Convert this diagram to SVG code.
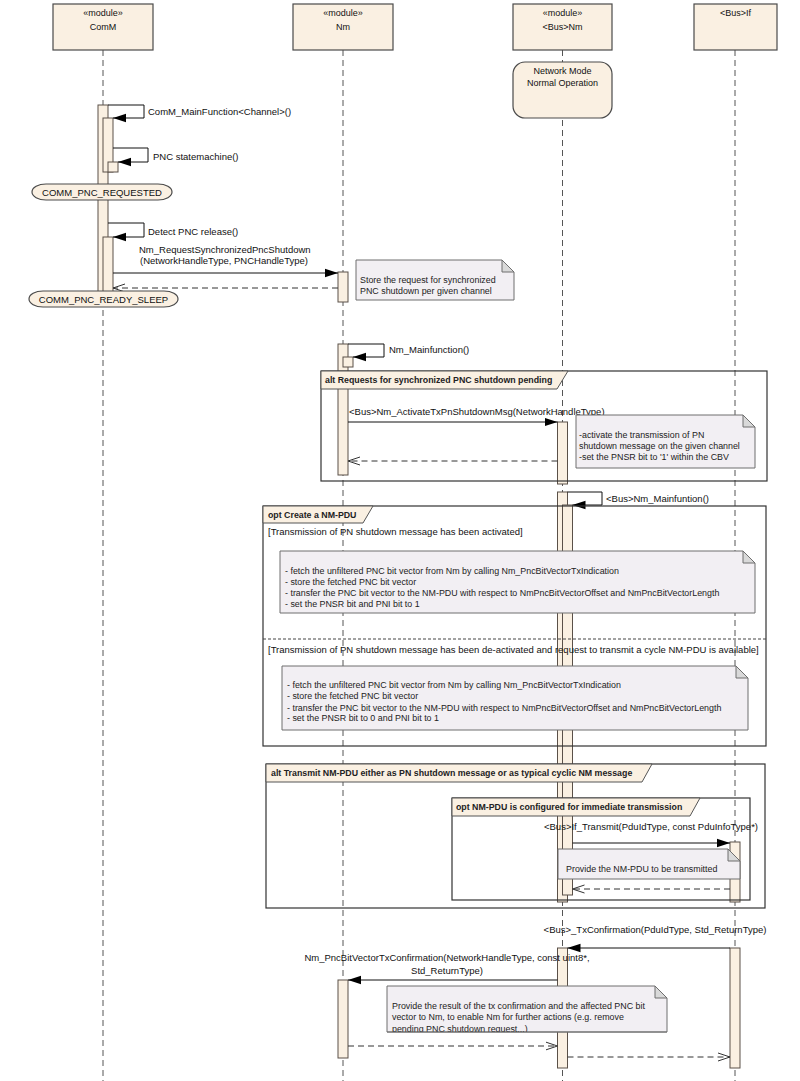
<svg xmlns="http://www.w3.org/2000/svg" width="800" height="1081" viewBox="0 0 800 1081">
<style>
.hdr{fill:#FAF0E2;stroke:#4a4a4a;stroke-width:1.2}
.life{stroke:#555;stroke-width:1;stroke-dasharray:6 4;fill:none}
.bar{fill:#FAF0E2;stroke:#5a5048;stroke-width:1}
.t{font-family:"Liberation Sans",Arial,sans-serif;font-size:9.5px;fill:#111}
.h{font-family:"Liberation Sans",Arial,sans-serif;font-size:9px;fill:#111}
.c{text-anchor:middle}
.lbl{font-family:"Liberation Sans",Arial,sans-serif;font-size:8.8px;font-weight:bold;fill:#222}
.nt{font-family:"Liberation Sans",Arial,sans-serif;font-size:8.9px;fill:#222}
.msg{stroke:#111;stroke-width:1;fill:none}
.ret{stroke:#333;stroke-width:1;fill:none;stroke-dasharray:6 4}
.frame{fill:none;stroke:#333;stroke-width:1.2}
.flab{fill:#FAF0E2;stroke:#555;stroke-width:1}
.note{fill:#F2EFF3;stroke:#6e6e6e;stroke-width:1}
.ear{fill:#D9D9D9;stroke:#6e6e6e;stroke-width:1}
.st{fill:#FAF0E2;stroke:#4a4a4a;stroke-width:1.2}
</style>
<defs>
<marker id="fa" markerUnits="userSpaceOnUse" markerWidth="13" markerHeight="10" viewBox="0 0 13 10" refX="13" refY="5" orient="auto"><path d="M0,0.8 L13,5 L0,9.2 z" fill="#000"/></marker>
<marker id="oa" markerUnits="userSpaceOnUse" markerWidth="13" markerHeight="10" viewBox="0 0 13 10" refX="12" refY="5" orient="auto"><path d="M0,1 L12,5 L0,9" fill="none" stroke="#333" stroke-width="1"/></marker>
<clipPath id="n6clip"><rect x="387" y="986" width="280" height="46"/></clipPath>
</defs>
<rect x="0" y="0" width="800" height="1081" fill="#fff"/>

<g id="ComM">
<line class="life" x1="103" y1="50" x2="103" y2="1081"/>
<rect class="hdr" x="53" y="4" width="100" height="46"/>
<text class="h c" x="103" y="16">«module»</text>
<text class="h c" x="103" y="30">ComM</text>
</g>
<g id="Nm">
<line class="life" x1="343" y1="50" x2="343" y2="1081"/>
<rect class="hdr" x="293" y="4" width="100" height="46"/>
<text class="h c" x="343" y="16">«module»</text>
<text class="h c" x="343" y="30">Nm</text>
</g>
<g id="BusNm">
<line class="life" x1="562.5" y1="50" x2="562.5" y2="1081"/>
<rect class="hdr" x="513" y="4" width="99" height="46"/>
<text class="h c" x="562.5" y="16">«module»</text>
<text class="h c" x="562.5" y="30">&lt;Bus&gt;Nm</text>
</g>
<g id="BusIf">
<line class="life" x1="735" y1="50" x2="735" y2="1081"/>
<rect class="hdr" x="694" y="4" width="83" height="46"/>
<text class="h c" x="735.5" y="16">&lt;Bus&gt;If</text>
</g>

<g id="state-network-mode">
<rect class="st" x="513" y="62" width="99" height="56" rx="12" ry="12"/>
<text class="h c" x="562.5" y="74">Network Mode</text>
<text class="h c" x="562.5" y="86">Normal Operation</text>
</g>

<g id="activations">
<rect class="bar" x="98" y="105" width="10" height="195"/>
<rect class="bar" x="103" y="118" width="10" height="54"/>
<rect class="bar" x="108" y="162" width="10" height="10"/>
<rect class="bar" x="103" y="237" width="10" height="60"/>
<rect class="bar" x="338" y="272" width="10" height="30"/>
<rect class="bar" x="338" y="344" width="10" height="131"/>
<rect class="bar" x="343" y="357" width="10" height="10"/>
<rect class="bar" x="557.5" y="422" width="10" height="62"/>
<rect class="bar" x="557.5" y="492" width="10" height="410"/>
<rect class="bar" x="562.5" y="505" width="10" height="390"/>
<rect class="bar" x="730" y="842" width="10" height="60"/>
<rect class="bar" x="557.5" y="948" width="10" height="120"/>
<rect class="bar" x="730" y="948" width="10" height="120"/>
<rect class="bar" x="338" y="980" width="10" height="78"/>
</g>

<g id="connectors">
<polyline class="msg" points="108,105 144,105 144,118 113,118" marker-end="url(#fa)"/>
<text class="t" x="148" y="115">ComM_MainFunction&lt;Channel&gt;()</text>
<polyline class="msg" points="113,148 148,148 148,162 118,162" marker-end="url(#fa)"/>
<text class="t" x="153" y="160">PNC statemachine()</text>
<polyline class="msg" points="108,223 144,223 144,237 113,237" marker-end="url(#fa)"/>
<text class="t" x="148" y="235">Detect PNC release()</text>
<line class="msg" x1="113" y1="273" x2="338" y2="273" marker-end="url(#fa)"/>
<text class="t" x="139" y="253">Nm_RequestSynchronizedPncShutdown</text>
<text class="t" x="140" y="264">(NetworkHandleType, PNCHandleType)</text>
<line class="ret" x1="338" y1="288" x2="113" y2="288" marker-end="url(#oa)"/>
<polyline class="msg" points="348,344 384,344 384,357 353,357" marker-end="url(#fa)"/>
<text class="t" x="389" y="353">Nm_Mainfunction()</text>
<line class="msg" x1="348" y1="422" x2="557.5" y2="422" marker-end="url(#fa)"/>
<text class="t" x="349" y="415">&lt;Bus&gt;Nm_ActivateTxPnShutdownMsg(NetworkHandleType)</text>
<line class="ret" x1="557.5" y1="461" x2="348" y2="461" marker-end="url(#oa)"/>
<polyline class="msg" points="567.5,492 602,492 602,505 572.5,505" marker-end="url(#fa)"/>
<text class="t" x="606" y="502">&lt;Bus&gt;Nm_Mainfuntion()</text>
<line class="msg" x1="572.5" y1="843" x2="730" y2="843" marker-end="url(#fa)"/>
<text class="t c" x="651" y="830">&lt;Bus&gt;If_Transmit(PduIdType, const PduInfoType*)</text>
<line class="ret" x1="730" y1="889" x2="572.5" y2="889" marker-end="url(#oa)"/>
<line class="msg" x1="730" y1="948" x2="567.5" y2="948" marker-end="url(#fa)"/>
<text class="t c" x="655" y="933">&lt;Bus&gt;_TxConfirmation(PduIdType, Std_ReturnType)</text>
<line class="msg" x1="557.5" y1="980" x2="348" y2="980" marker-end="url(#fa)"/>
<text class="t c" x="447" y="961">Nm_PncBitVectorTxConfirmation(NetworkHandleType, const uint8*,</text>
<text class="t c" x="447" y="974">Std_ReturnType)</text>
<line class="ret" x1="348" y1="1046" x2="557.5" y2="1046" marker-end="url(#oa)"/>
<line class="ret" x1="567.5" y1="1057" x2="730" y2="1057" marker-end="url(#oa)"/>
</g>

<g id="state-comm-pnc-requested">
<rect class="st" x="32" y="184" width="140" height="16" rx="14" ry="8"/>
<text class="t c" x="102" y="195.5">COMM_PNC_REQUESTED</text>
</g>
<g id="state-comm-pnc-ready-sleep">
<rect class="st" x="29" y="291" width="149" height="16" rx="14" ry="8"/>
<text class="t c" x="103.5" y="302.5">COMM_PNC_READY_SLEEP</text>
</g>

<g id="frame-alt-requests">
<rect class="frame" x="321" y="371" width="446" height="110"/>
<path class="flab" d="M321,371 H568 L557,389 H321 Z"/>
<text class="lbl" x="325" y="383">alt Requests for synchronized PNC shutdown pending</text>
</g>
<g id="frame-opt-create">
<rect class="frame" x="263" y="506" width="503" height="240"/>
<path class="flab" d="M263,506 H373 L363,523 H263 Z"/>
<text class="lbl" x="268" y="518">opt Create a NM-PDU</text>
<text class="t" x="268" y="535">[Transmission of PN shutdown message has been activated]</text>
<line x1="263" y1="639" x2="766" y2="639" stroke="#444" stroke-width="1" stroke-dasharray="3 2"/>
<text class="t" x="268" y="653">[Transmission of PN shutdown message has been de-activated and request to transmit a cycle NM-PDU is available]</text>
</g>
<g id="frame-alt-transmit">
<rect class="frame" x="266" y="764" width="499" height="144"/>
<path class="flab" d="M266,764 H652 L642,782 H266 Z"/>
<text class="lbl" x="271" y="776">alt Transmit NM-PDU either as PN shutdown message or as typical cyclic NM message</text>
</g>
<g id="frame-opt-immediate">
<rect class="frame" x="452" y="798" width="298" height="102"/>
<path class="flab" d="M452,798 H700 L690,816 H452 Z"/>
<text class="lbl" x="456" y="810">opt NM-PDU is configured for immediate transmission</text>
</g>

<g id="note-store">
<path class="note" d="M356,260 H502 L514,272 V300 H356 Z"/>
<path class="ear" d="M502,260 V272 H514 Z"/>
<text class="nt" x="360" y="283">Store the request for synchronized</text>
<text class="nt" x="360" y="294">PNC shutdown per given channel</text>
</g>
<g id="note-activate">
<path class="note" d="M576,415 H743 L755,427 V468 H576 Z"/>
<path class="ear" d="M743,415 V427 H755 Z"/>
<text class="nt" x="579" y="438">-activate the transmission of PN</text>
<text class="nt" x="579" y="449">shutdown message on the given channel</text>
<text class="nt" x="579" y="460">-set the PNSR bit to '1' within the CBV</text>
</g>
<g id="note-fetch-1">
<path class="note" d="M280,551 H743 L755,563 V613 H280 Z"/>
<path class="ear" d="M743,551 V563 H755 Z"/>
<text class="nt" x="285" y="574">- fetch the unfiltered  PNC bit vector from Nm by calling  Nm_PncBitVectorTxIndication</text>
<text class="nt" x="285" y="585">- store the fetched PNC bit vector</text>
<text class="nt" x="285" y="596">- transfer the PNC bit vector to the NM-PDU with respect to NmPncBitVectorOffset and  NmPncBitVectorLength</text>
<text class="nt" x="285" y="607">- set the PNSR bit and PNI bit to 1</text>
</g>
<g id="note-fetch-2">
<path class="note" d="M282,666 H736 L748,678 V730 H282 Z"/>
<path class="ear" d="M736,666 V678 H748 Z"/>
<text class="nt" x="287" y="688">- fetch the unfiltered PNC bit vector from Nm by calling Nm_PncBitVectorTxIndication</text>
<text class="nt" x="287" y="699">- store the fetched PNC bit vector</text>
<text class="nt" x="287" y="711">- transfer the PNC bit vector to the NM-PDU with respect to NmPncBitVectorOffset and  NmPncBitVectorLength</text>
<text class="nt" x="287" y="721">- set the PNSR bit to 0 and PNI bit to 1</text>
</g>
<g id="note-provide-pdu">
<path class="note" d="M558,849 H728 L740,861 V879 H558 Z"/>
<path class="ear" d="M728,849 V861 H740 Z"/>
<text class="nt" x="566" y="872">Provide the NM-PDU to be transmitted</text>
</g>
<g id="note-provide-result">
<path class="note" d="M387,986 H655 L667,998 V1032 H387 Z"/>
<path class="ear" d="M655,986 V998 H667 Z"/>
<g clip-path="url(#n6clip)">
<text class="nt" x="392" y="1009">Provide the result of the tx confirmation and the affected PNC bit</text>
<text class="nt" x="392" y="1020">vector to Nm, to enable Nm for further actions (e.g. remove</text>
<text class="nt" x="392" y="1032">pending PNC shutdown request...)</text>
</g>
<line x1="387" y1="1032" x2="667" y2="1032" stroke="#6e6e6e" stroke-width="1"/>
</g>
</svg>
